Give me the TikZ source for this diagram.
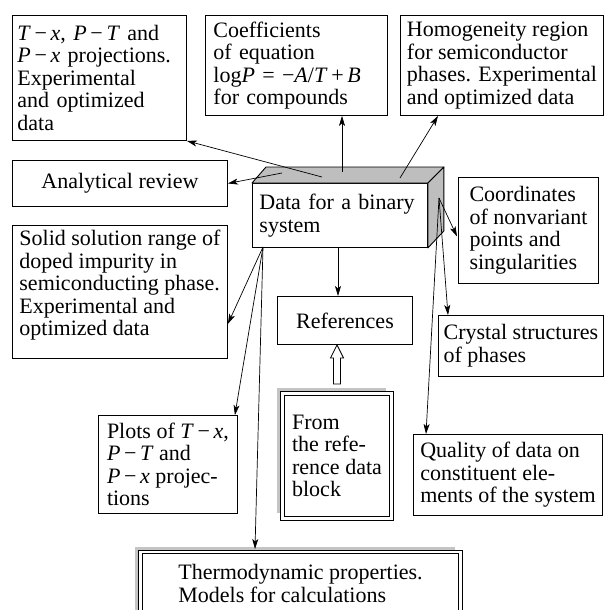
\documentclass[tikz,border=0pt]{standalone}
\usepackage{fontspec}
\setmainfont{Liberation Serif}
\usetikzlibrary{arrows.meta,calc,shadows}
\definecolor{facegray}{RGB}{190,190,190}
\definecolor{shadegray}{RGB}{196,196,196}
\newcommand{\mn}{\,−\,}
\begin{document}
\begin{tikzpicture}[x=1pt,y=-1pt,
  every node/.style={font=\fontsize{22}{22.5}\selectfont},
  box/.style={draw, line width=0.9pt, fill=white, anchor=north west,
    align=left, inner sep=0pt},
  dbox/.style={box, double, double distance=2.4pt, line width=1pt,
    general shadow={fill=shadegray, shadow xshift=-5.5pt, shadow yshift=5.5pt}},
  face/.style={fill=facegray, draw, line width=0.9pt, line join=round},
  arr/.style={line width=0.7pt, -{Stealth[length=10pt,width=6pt,inset=2.5pt]}},
  hollow/.style={line width=0.8pt, fill=white, line join=miter},
]
\useasboundingbox (0,0) rectangle (604,610);

% boxes of the upper row
\node[box, minimum width=174pt, minimum height=125pt, text width=164pt,
  inner xsep=5pt] (tl) at (12,15)
  {\textit{T}\mn\textit{x}, \textit{P}\mn\textit{T} and\\
   \textit{P}\mn\textit{x} projections.\\ Experimental\\ and optimized\\ data};
\node[box, minimum width=182pt, minimum height=100pt, text width=166pt,
  inner xsep=8pt] (coef) at (205,15)
  {Coefficients\\ of equation\\
   log\textit{P} = −\textit{A}/\textit{T}\,+\,\textit{B}\\ for compounds};
\node[box, minimum width=203pt, minimum height=100pt] (homo) at (400,15)
  {Homogeneity region\\ for semiconductor\\ phases. Experimental\\ and optimized data};
\node[box, minimum width=215pt, minimum height=46pt] (ana) at (12,160)
  {Analytical review};

% the central block, drawn as a box with depth
\node[box, minimum width=175pt, minimum height=64pt, text width=161pt,
  inner xsep=7pt] (data) at (252,183) {Data for a binary\\ system};
\path[face] (data.north west) -- ($(data.north west)+(14,-16)$)
  -- ($(data.north east)+(16,-16)$) -- (data.north east) -- cycle;
\path[face] (data.north east) -- ($(data.north east)+(16,-16)$)
  -- ($(data.south east)+(16,-17)$) -- (data.south east) -- cycle;

% side and lower boxes
\node[box, minimum width=140pt, minimum height=106pt] (coord) at (458,177)
  {Coordinates\\ of nonvariant\\ points and\\ singularities};
\node[box, minimum width=215pt, minimum height=133pt] (solid) at (12,225)
  {Solid solution range of\\ doped impurity in\\ semiconducting phase.\\
   Experimental and\\ optimized data\\[-5pt]\mbox{}};
\node[box, minimum width=135pt, minimum height=48pt] (refs) at (277,296)
  {References};
\node[box, minimum width=165pt, minimum height=61pt] (crystal) at (438,315)
  {Crystal structures\\ of phases};
\node[dbox, minimum width=109pt, minimum height=125pt] (from) at (282,393)
  {From\\ the refe-\\ rence data\\ block};
\node[box, minimum width=139pt, minimum height=98pt] (plots) at (98,415)
  {Plots of \textit{T}\mn\textit{x},\\ \textit{P}\mn\textit{T} and\\
   \textit{P}\mn\textit{x} projec-\\ tions};
\node[box, minimum width=189pt, minimum height=81pt] (quality) at (413,434)
  {Quality of data on\\ constituent ele-\\ ments of the system};
\node[dbox, minimum width=320pt, minimum height=63pt] (thermo) at (140,551.5)
  {Thermodynamic properties.\\ Models for calculations};

% points on the central block where the connectors leave it
\coordinate (c1) at (322,177);
\coordinate (c2) at (282,173);
\coordinate (c3) at (342,172);
\coordinate (c4) at (400,178);
\coordinate (c5) at (439,198);
\coordinate (c6) at (263,247);
\coordinate (c7) at (338,247);

\draw[arr] (c1) -- (tl.south east);
\draw[arr] (c2) -- (ana.east);
\draw[arr] (c3) -- (c3 |- coef.south);
\draw[arr] (c4) -- ($(homo.south west)+(38,0)$);
\draw[arr] (c5) -- ($(coord.west)+(-1,6)$);
\draw[arr] (c5) -- ($(crystal.north west)+(10,0)$);
\draw[arr] (c5) -- ($(quality.north west)+(13,0)$);
\draw[arr] (c6) -- ($(solid.south east)+(0,-35)$);
\draw[arr] (c6) -- ($(plots.north east)+(-3,0)$);
\draw[arr] (c6) -- ($(thermo.north west)+(115,-2.5)$);
\draw[arr] (c7) -- (c7 |- refs.north);

% hollow arrow from the reference data block up to the references
\draw[hollow] (refs.south -| from.north) -- ++(6.5,13) -- ++(-3,0)
  -- ($(from.north)+(3.5,-9)$) -- ++(-7,0)
  -- ($(refs.south -| from.north)+(-3.5,13)$) -- ++(-3,0) -- cycle;
\end{tikzpicture}
\end{document}
